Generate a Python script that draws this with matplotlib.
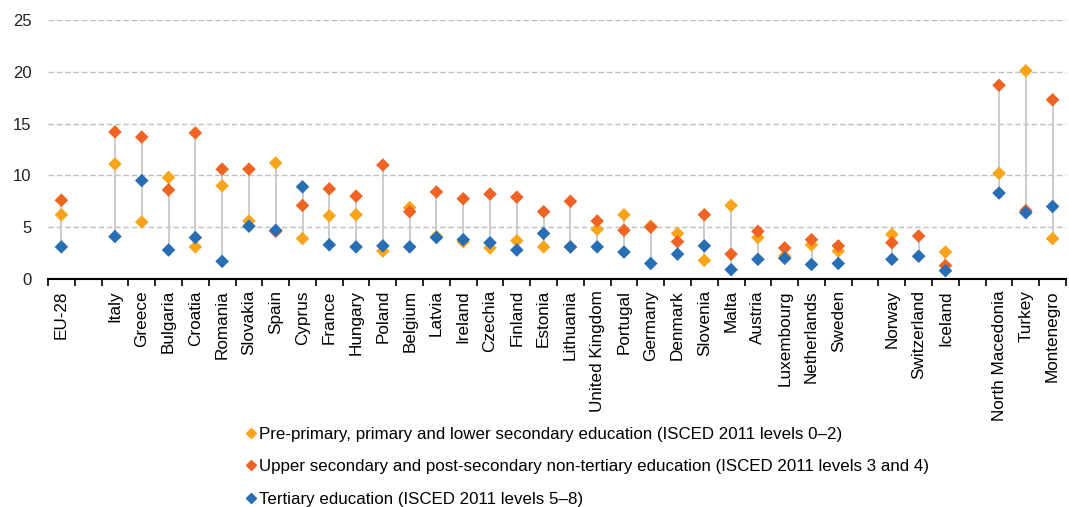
import numpy as np
import matplotlib.pyplot as plt
from matplotlib.lines import Line2D

# category slots ('' = empty gap slot)
countries = ['EU-28', '', 'Italy', 'Greece', 'Bulgaria', 'Croatia', 'Romania',
             'Slovakia', 'Spain', 'Cyprus', 'France', 'Hungary', 'Poland',
             'Belgium', 'Latvia', 'Ireland', 'Czechia', 'Finland', 'Estonia',
             'Lithuania', 'United Kingdom', 'Portugal', 'Germany', 'Denmark',
             'Slovenia', 'Malta', 'Austria', 'Luxembourg', 'Netherlands',
             'Sweden', '', 'Norway', 'Switzerland', 'Iceland', '',
             'North Macedonia', 'Turkey', 'Montenegro']

nan = np.nan
primary = [6.2, nan, 11.1, 5.5, 9.8, 3.1, 9.0, 5.6, 11.2, 3.9, 6.1, 6.2, 2.7,
           6.9, 4.1, 3.6, 3.0, 3.7, 3.1, 3.1, 4.8, 6.2, 5.1, 4.4, 1.8, 7.1,
           4.0, 2.2, 3.3, 2.7, nan, 4.3, nan, 2.6, nan, 10.2, 20.1, 3.9]
upper_secondary = [7.6, nan, 14.2, 13.7, 8.6, 14.1, 10.6, 10.6, 4.6, 7.1, 8.7,
                   8.0, 11.0, 6.5, 8.4, 7.75, 8.2, 7.9, 6.5, 7.5, 5.6, 4.7,
                   5.0, 3.6, 6.2, 2.4, 4.6, 3.0, 3.8, 3.2, nan, 3.5, 4.15,
                   1.3, nan, 18.7, 6.6, 17.3]
tertiary = [3.1, nan, 4.1, 9.5, 2.8, 4.0, 1.7, 5.1, 4.7, 8.9, 3.3, 3.1, 3.2,
            3.1, 4.0, 3.8, 3.5, 2.8, 4.4, 3.1, 3.1, 2.6, 1.5, 2.4, 3.2, 0.9,
            1.9, 2.0, 1.4, 1.5, nan, 1.9, 2.2, 0.8, nan, 8.3, 6.4, 7.0]

labels = ['Pre-primary, primary and lower secondary education (ISCED 2011 levels 0\u20132)',
          'Upper secondary and post-secondary non-tertiary education (ISCED 2011 levels 3 and 4)',
          'Tertiary education (ISCED 2011 levels 5\u20138)']
colors = ['#FAA519', '#F06423', '#286EB4']

plt.rcParams['font.family'] = ['Liberation Sans', 'DejaVu Sans']

fig = plt.figure(figsize=(10.69, 5.07), dpi=100)
ax = fig.add_axes([48 / 1069, 1 - 279 / 507, 1018 / 1069, 259 / 507])

x = np.arange(len(countries))
data = np.array([primary, upper_secondary, tertiary])
lo = np.nanmin(data, axis=0)
hi = np.nanmax(data, axis=0)
ax.vlines(x, lo, hi, color='#c8c8c8', lw=1.3, zorder=2)

for vals, c in zip(data, colors):
    ax.scatter(x, vals, marker='D', s=48, color=c, edgecolors='none', zorder=3)

ax.set_xlim(-0.5, len(countries) - 0.5)
ax.set_ylim(0, 25)
ax.set_yticks(range(0, 26, 5))
ax.yaxis.grid(True, linestyle=(0, (4, 2)), color='#c0c0c0', lw=1)
ax.set_axisbelow(True)

ax.set_xticks(x)
ax.set_xticklabels(countries, rotation=90, fontsize=12.3)
ax.set_xticks(np.arange(-0.5, len(countries)), minor=True)
ax.tick_params(axis='x', which='major', length=0, pad=8)
ax.tick_params(axis='x', which='minor', length=5, width=1.2, color='black')
ax.tick_params(axis='y', length=0, labelsize=12, pad=12, labelcolor='#222222')

for s in ['top', 'right', 'left']:
    ax.spines[s].set_visible(False)
ax.spines['bottom'].set_linewidth(1.5)

handles = [Line2D([], [], marker='D', ls='none', color=c, markersize=5)
           for c in colors]
fig.legend(handles, labels, loc='upper left', bbox_to_anchor=(0.222, 0.172),
           frameon=False, fontsize=12.2, handletextpad=0.1, handlelength=0.8,
           labelspacing=1.05, borderaxespad=0)

fig.savefig('out.png', dpi=100)
